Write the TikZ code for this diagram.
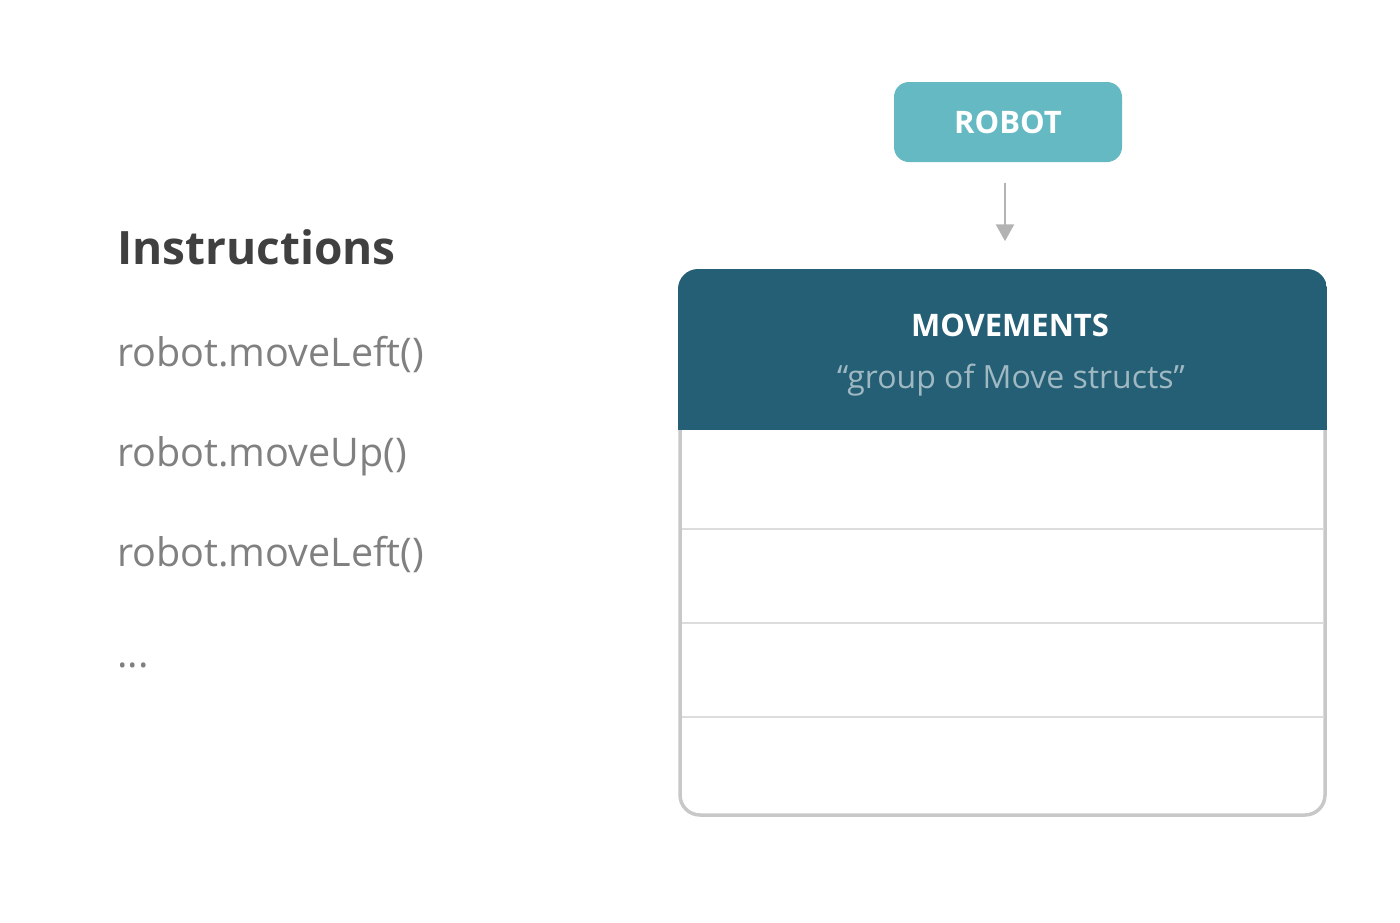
\documentclass[tikz,border=0pt]{standalone}
\usepackage{fontspec}
\setmainfont{Open Sans}
\usepackage{tikz}
\usetikzlibrary{arrows.meta,positioning,chains}
\definecolor{robotfill}{HTML}{64B9C3}
\definecolor{headfill}{HTML}{245F75}
\definecolor{subtext}{HTML}{9FB8C2}
\definecolor{instrtext}{HTML}{808080}
\definecolor{titletext}{HTML}{404040}
\definecolor{boxline}{HTML}{C8C8C8}
\definecolor{rowline}{HTML}{DCDCDC}
\definecolor{arrowgrey}{HTML}{B3B3B3}

\begin{document}
\begin{tikzpicture}[
	x=1pt, y=-1pt,
	start chain=1 going below,
	node distance=0pt,
	instr/.style={
		on chain=1,
		inner sep=0pt,
		text width=330pt,
		align=left,
		minimum height=100pt,
		text height=28pt,
		text depth=10pt,
		text=instrtext,
		font=\fontsize{39.5}{42}\selectfont
		},
	robotbox/.style={
		rectangle,
		rounded corners=15pt,
		fill=robotfill,
		text=white,
		minimum width=228pt,
		minimum height=80pt,
		font=\bfseries\fontsize{31}{34}\selectfont
	},
	movebox/.style={
		rectangle,
		rounded corners=20pt,
		draw=boxline,
		line width=3.5pt,
		minimum width=645pt,
		minimum height=544pt
	},
	every node/.style={inner sep=0pt}
]
\useasboundingbox (0,0) rectangle (1400,922);

% Instructions
\node [anchor=base west, text=titletext, font=\bfseries\fontsize{46}{50}\selectfont] (title) at (117,264) {Instructions};
\node [instr, anchor=base west] (Move 1) at (117,366) {robot.moveLeft()};
\node [instr] (Move 2) {robot.moveUp()};
\node [instr] (Move 3) {robot.moveLeft()};
\node [instr] (More) {...};

% Robot and movements
\node [robotbox] (robot) at (1008,122) {ROBOT};
\node [movebox] (moves) at (1002.5,543) {};
\begin{scope}
	\clip [rounded corners=20pt] (678,269) rectangle (1327,817);
	\fill [headfill] (678,269) rectangle (1327,430);
\end{scope}
\node [text=white, font=\bfseries\fontsize{31}{34}\selectfont, anchor=base] (head) at (1010,336) {MOVEMENTS};
\node [text=subtext, font=\fontsize{32}{35}\selectfont, anchor=base] (sub) at (1011,388) {“group of Move structs”};
\foreach \y in {529,623,717}
	\draw [rowline, line width=2pt] (682,\y) -- (1324,\y);

\draw [arrowgrey, line width=2.5pt, -{Triangle[length=17pt,width=18pt]}, shorten <=21pt, shorten >=28pt] ([xshift=-3pt]robot.south) -- ([xshift=-3pt]robot.south |- moves.north);

\end{tikzpicture}
\end{document}
